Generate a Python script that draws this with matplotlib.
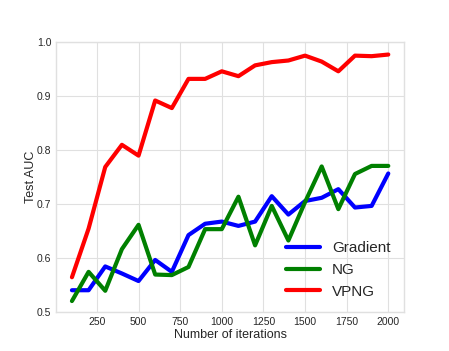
import matplotlib
matplotlib.use('Agg')
import matplotlib.pyplot as plt
import numpy as np

iterations = np.arange(100, 2001, 100)

gradient_auc = [0.541, 0.541, 0.585, 0.572, 0.558, 0.597, 0.575, 0.643, 0.664, 0.668,
                0.660, 0.668, 0.715, 0.681, 0.706, 0.712, 0.728, 0.694, 0.697, 0.757]
ng_auc = [0.521, 0.575, 0.540, 0.617, 0.662, 0.570, 0.569, 0.584, 0.654, 0.654,
          0.714, 0.624, 0.697, 0.633, 0.704, 0.770, 0.691, 0.756, 0.771, 0.771]
vpng_auc = [0.565, 0.655, 0.769, 0.810, 0.790, 0.892, 0.878, 0.932, 0.932, 0.946,
            0.937, 0.957, 0.963, 0.966, 0.975, 0.964, 0.946, 0.975, 0.974, 0.977]

plt.style.use('seaborn-v0_8-whitegrid')
plt.rcParams['font.family'] = ['Liberation Sans', 'DejaVu Sans']
plt.rcParams['grid.color'] = '0.88'
plt.rcParams['axes.edgecolor'] = '0.88'

fig = plt.figure(figsize=(4.49, 3.51), dpi=100)
ax = fig.add_subplot(111)

ax.plot(iterations, gradient_auc, color='b', linewidth=3, label='Gradient')
ax.plot(iterations, ng_auc, color='g', linewidth=3, label='NG')
ax.plot(iterations, vpng_auc, color='r', linewidth=3, label='VPNG')

ax.set_ylim(0.5, 1.0)
ax.set_xticks(np.arange(250, 2001, 250))
ax.set_yticks(np.arange(0.5, 1.01, 0.1))
ax.yaxis.set_major_formatter(matplotlib.ticker.FormatStrFormatter('%.1f'))
ax.tick_params(labelsize=7.5, colors='.15')

ax.set_xlabel('Number of iterations', fontsize=9, labelpad=1, color='.15')
ax.set_ylabel('Test AUC', fontsize=9, labelpad=0, color='.15')

ax.legend(loc='lower right', fontsize=11, handlelength=2.2, frameon=False)

fig.savefig('out.png', dpi=100)
